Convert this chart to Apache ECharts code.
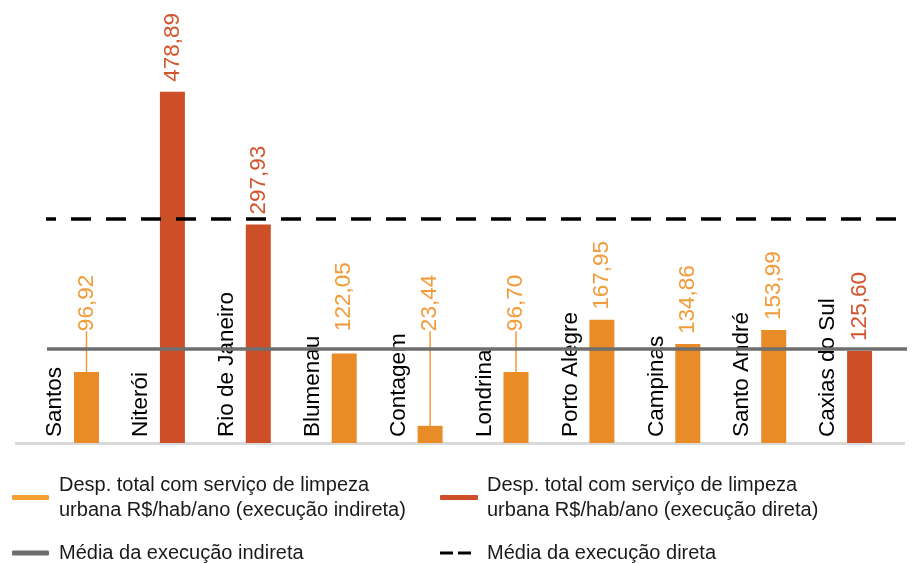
<!DOCTYPE html>
<html>
<head>
<meta charset="utf-8">
<script src="https://cdn.jsdelivr.net/npm/echarts@6/dist/echarts.min.js"></script>
<style>
html,body{margin:0;padding:0;background:#fff;}
#chart{width:912px;height:563px;}
</style>
</head>
<body>
<div id="chart"></div>
<script>
// ---- data ----
const cities = ['Santos','Niterói','Rio de Janeiro','Blumenau','Contagem','Londrina','Porto Alegre','Campinas','Santo André','Caxias do Sul'];
const indirectValues = [96.92, null, null, 122.05, 23.44, 96.70, 167.95, 134.86, 153.99, null];
const directValues = [null, 478.89, 297.93, null, null, null, null, null, null, 125.60];
const meanIndirect = 128;
const meanDirect = 306;
const legendNames = [
  'Desp. total com serviço de limpeza\nurbana R$/hab/ano (execução indireta)',
  'Desp. total com serviço de limpeza\nurbana R$/hab/ano (execução direta)',
  'Média da execução indireta',
  'Média da execução direta'
];

// ---- styles ----
const FONT = '"Liberation Sans", Arial, sans-serif';
const ORANGE = '#E98C27';
const ORANGE_TXT = '#F29B38';
const RED = '#CD4F28';
const RED_TXT = '#D4542D';
const GRAY = '#6E6E6E';

const chart = echarts.init(document.getElementById('chart'), null, {renderer: 'canvas'});

const fmt = p => p.value == null ? '' : Number(p.value).toFixed(2).replace('.', ',');

const valueLabel = color => ({
  show: true,
  position: 'top',
  distance: 10,
  rotate: 90,
  align: 'left',
  verticalAlign: 'middle',
  color: color,
  fontFamily: FONT,
  fontSize: 22.5,
  formatter: fmt
});

const indirectData = indirectValues.map(v => v == null ? null : ({
  value: v,
  labelLine: {show: v < meanIndirect - 20}
}));

const legendText = pad => ({fontFamily: FONT, fontSize: 20, color: '#1a1a1a', lineHeight: 25, padding: [0,0,0,pad]});

const option = {
  animation: false,
  grid: {left: 27.8, right: 25.2, top: 3, bottom: 120, containLabel: false},
  xAxis: {
    type: 'category',
    data: cities,
    axisLine: {show: false},
    axisTick: {show: false},
    axisLabel: {show: false},
    splitLine: {show: false}
  },
  yAxis: {
    type: 'value', min: 0, max: 600,
    show: false,
    splitLine: {show: false}
  },
  legend: [
    {data: [{name: legendNames[0], itemStyle: {color: '#F5A033', opacity: 1}}], left: 12, top: 472.5, padding: 0,
     icon: 'roundRect', itemWidth: 37, itemHeight: 5, textStyle: legendText(5)},
    {data: [{name: legendNames[1], itemStyle: {color: RED, opacity: 1}}], left: 440, top: 472.5, padding: 0,
     icon: 'roundRect', itemWidth: 38, itemHeight: 5, textStyle: legendText(4)},
    {data: [{name: legendNames[2], itemStyle: {color: GRAY, opacity: 1}}], left: 12, top: 540.5, padding: 0,
     icon: 'roundRect', itemWidth: 37, itemHeight: 5, textStyle: legendText(5)},
    {data: [{name: legendNames[3], itemStyle: {color: '#000', opacity: 1}}], left: 440, top: 540.5, padding: 0,
     icon: 'path://M0,0h13v3h-13z M18,0h13v3h-13z', itemWidth: 31, itemHeight: 3, textStyle: legendText(11)}
  ],
  series: [
    {
      name: 'cityLabels',
      type: 'bar',
      barWidth: 25,
      barGap: '26%',
      silent: true,
      z: 1,
      itemStyle: {color: 'rgba(0,0,0,0)'},
      data: cities.map(() => 0),
      label: {
        show: true,
        position: 'top',
        distance: 6,
        rotate: 90,
        align: 'left',
        verticalAlign: 'middle',
        color: '#000',
        fontFamily: FONT,
        fontSize: 22.5,
        formatter: p => p.name
      },
      markLine: {
        silent: true,
        symbol: 'none',
        label: {show: false},
        lineStyle: {color: '#D9D9D9', width: 3, type: 'solid'},
        data: [[{x: 15, yAxis: 0}, {x: 905, yAxis: 0}]],
        z: 1
      }
    },
    {
      name: legendNames[0],
      type: 'bar',
      stack: 'v',
      barWidth: 25,
      barGap: '26%',
      z: 2,
      itemStyle: {color: ORANGE},
      data: indirectData,
      label: valueLabel(ORANGE_TXT),
      labelLine: {show: false, lineStyle: {color: ORANGE_TXT, width: 1.5}},
      labelLayout: function (params) {
        const v = indirectValues[params.dataIndex];
        if (v == null || v >= meanIndirect) return;
        const r = params.rect;
        const base = r.y + r.height;
        const lineY = base - meanIndirect * r.height / v;
        return {y: lineY - 18};
      }
    },
    {
      name: legendNames[1],
      type: 'bar',
      stack: 'v',
      barWidth: 25,
      barGap: '26%',
      z: 2,
      itemStyle: {color: RED},
      data: directValues,
      label: valueLabel(RED_TXT)
    },
    {
      name: legendNames[2],
      type: 'scatter',
      data: [],
      itemStyle: {color: GRAY, opacity: 1},
      markLine: {
        silent: true,
        symbol: 'none',
        label: {show: false},
        lineStyle: {color: GRAY, width: 3.5, type: 'solid', opacity: 1},
        data: [[{x: 47, yAxis: meanIndirect}, {x: 907, yAxis: meanIndirect}]]
      }
    },
    {
      name: legendNames[3],
      type: 'scatter',
      data: [],
      itemStyle: {color: '#000', opacity: 1},
      markLine: {
        silent: true,
        symbol: 'none',
        label: {show: false},
        lineStyle: {color: '#000', width: 3.5, type: [20, 15], dashOffset: 10, opacity: 1},
        data: [[{x: 46, yAxis: meanDirect}, {x: 907, yAxis: meanDirect}]]
      }
    }
  ]
};

chart.setOption(option);
</script>
</body>
</html>
